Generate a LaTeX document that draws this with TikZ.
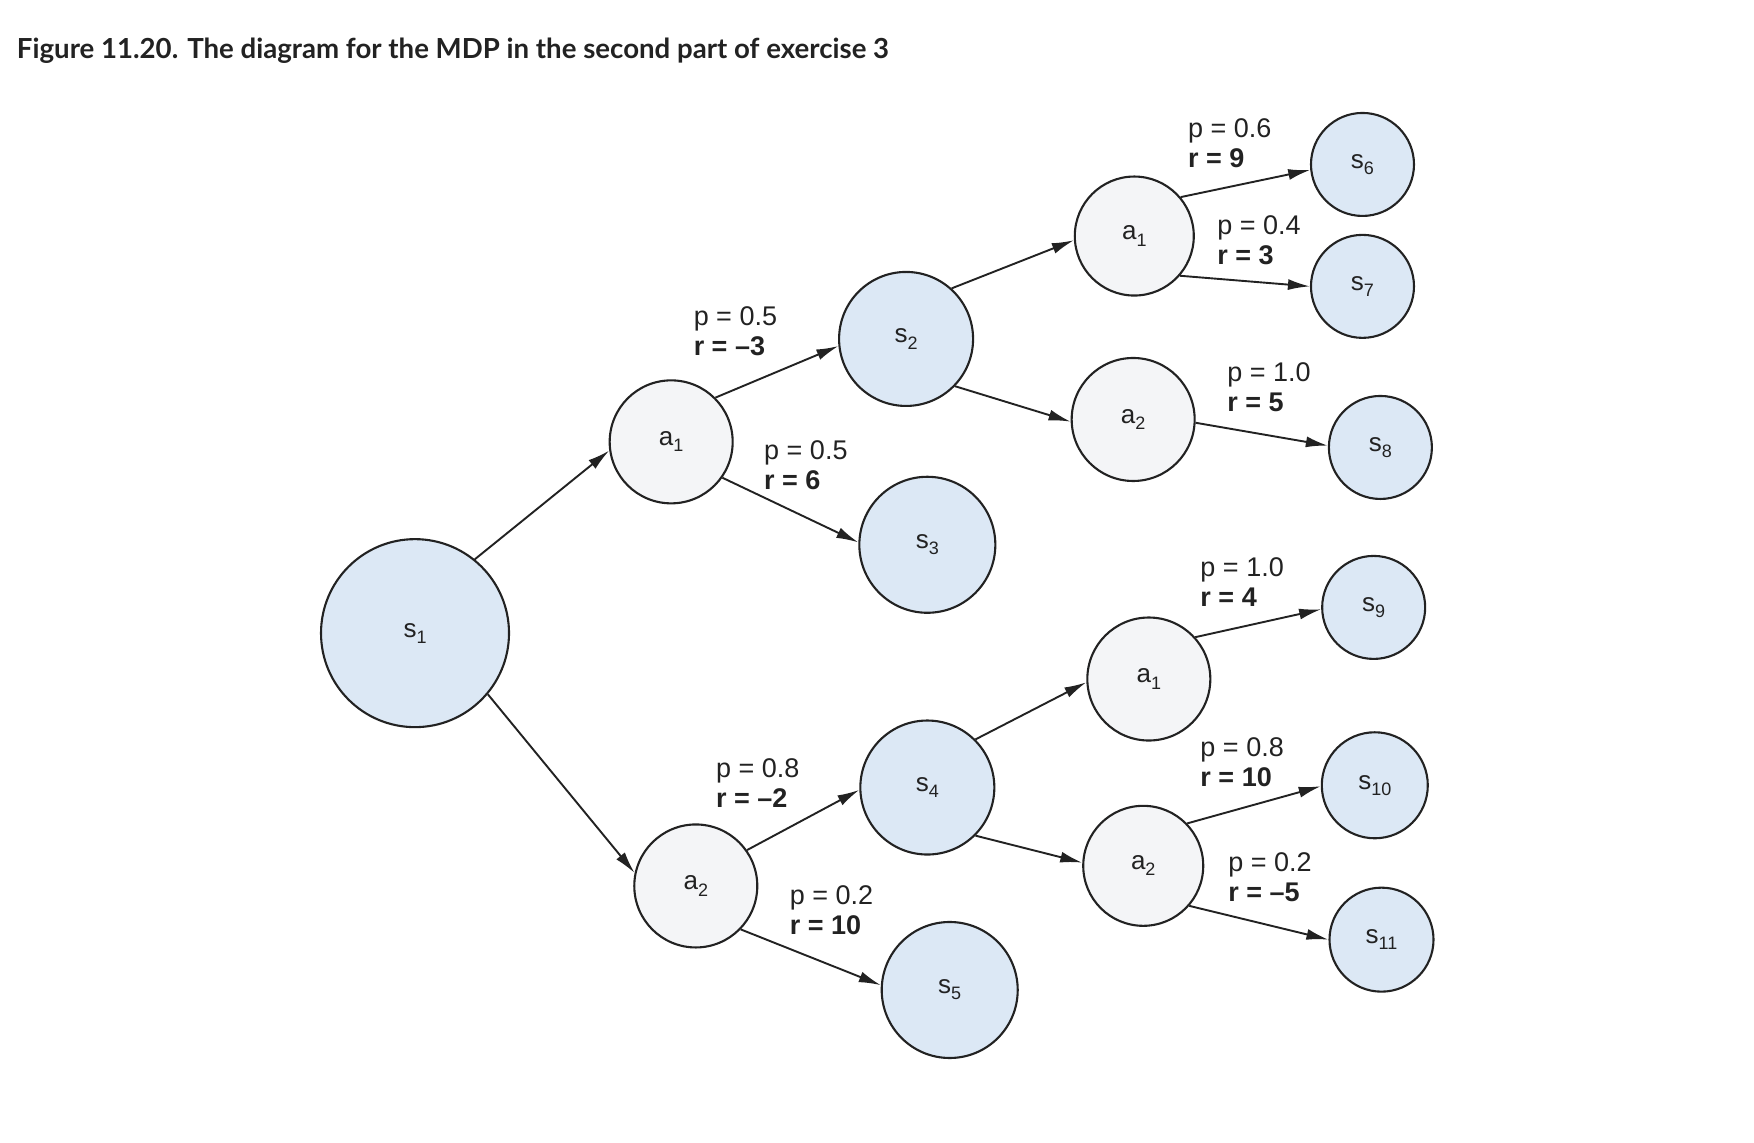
\documentclass[tikz,border=0pt]{standalone}
\usepackage{fontspec}
\setmainfont{Liberation Sans}
\newfontfamily\titlefont{Lato}
\usetikzlibrary{arrows.meta}
\definecolor{stfill}{HTML}{DCE8F5}
\definecolor{acfill}{HTML}{F4F5F7}
\definecolor{ink}{HTML}{222222}
\newcommand{\lowidx}[1]{\raisebox{-0.45ex}{\fontsize{18}{18}\selectfont #1}}
\newcommand{\nlab}[2]{#1\lowidx{#2}}
\begin{document}
\begin{tikzpicture}[x=1.1186pt,y=-1.1186pt,
  state/.style={circle,draw=ink,line width=2.1pt,fill=stfill,inner sep=0pt,text=ink,font=\fontsize{26}{30}\selectfont},
  act/.style={circle,draw=ink,line width=2.1pt,fill=acfill,inner sep=0pt,text=ink,font=\fontsize{26}{30}\selectfont},
  lbl/.style={anchor=west,align=left,inner sep=0pt,font=\fontsize{27}{30}\selectfont,text=ink},
  arr/.style={-{Latex[length=22pt,width=11pt]},line width=1.9pt,draw=ink}]
\fill[white] (0,0) rectangle (1568,1021);
\useasboundingbox (0,0) rectangle (1568,1021);

\node[anchor=base west,inner sep=0pt,text=ink] (title) at (15,52)
  {\resizebox{872pt}{!}{\titlefont\bfseries\fontsize{28}{30}\selectfont Figure 11.20. The diagram for the MDP in the second part of exercise 3}};

% states and actions
\node[state,minimum size=188pt] (s1) at (371,566) {\nlab{s}{1}};
\node[act,minimum size=123pt] (a1) at (600,395) {\nlab{a}{1}};
\node[act,minimum size=123pt] (a2) at (622,792) {\nlab{a}{2}};
\node[state,minimum size=134pt] (s2) at (810,303) {\nlab{s}{2}};
\node[state,minimum size=136pt] (s3) at (829,487) {\nlab{s}{3}};
\node[state,minimum size=134pt] (s4) at (829,704) {\nlab{s}{4}};
\node[state,minimum size=136pt] (s5) at (849,885) {\nlab{s}{5}};
\node[act,minimum size=119pt] (a1t) at (1014,211) {\nlab{a}{1}};
\node[act,minimum size=123pt] (a2t) at (1013,375) {\nlab{a}{2}};
\node[act,minimum size=123pt] (a1b) at (1027,607) {\nlab{a}{1}};
\node[act,minimum size=120pt] (a2b) at (1022,774) {\nlab{a}{2}};
\node[state,minimum size=103pt] (s6) at (1218,147) {\nlab{s}{6}};
\node[state,minimum size=103pt] (s7) at (1218,256) {\nlab{s}{7}};
\node[state,minimum size=103pt] (s8) at (1234,400) {\nlab{s}{8}};
\node[state,minimum size=103pt] (s9) at (1228,543) {\nlab{s}{9}};
\node[state,minimum size=106pt] (s10) at (1229,702) {\nlab{s}{10}};
\node[state,minimum size=104pt] (s11) at (1235,840) {\nlab{s}{11}};

% connectors
\draw[arr] (s1.51) -- (a1.188);
\draw[arr] (s1.-40) -- (a2.168);
\draw[arr] (a1.45) -- (s2.186);
\draw[arr] (a1.-35) -- (s3.178);
\draw[arr] (a2.35) -- (s4.182);
\draw[arr] (a2.-44) -- (s5.176);
\draw[arr] (s2.48) -- (a1t.184);
\draw[arr] (s2.-44) -- (a2t.182);
\draw[arr] (s4.45) -- (a1b.183);
\draw[arr] (s4.-45) -- (a2b.177);
\draw[arr] (a1t.40) -- (s6.186);
\draw[arr] (a1t.-41) -- (s7.180);
\draw[arr] (a2t.-3) -- (s8.178);
\draw[arr] (a1b.42) -- (s9.182);
\draw[arr] (a2b.44) -- (s10.181);
\draw[arr] (a2b.-41) -- (s11.180);

% labels
\node[lbl] (l1) at (620,296) {p = 0.5\\\textbf{r = –3}};
\node[lbl] (l2) at (683,416) {p = 0.5\\\textbf{r = 6}};
\node[lbl] (l3) at (640,700) {p = 0.8\\\textbf{r = –2}};
\node[lbl] (l4) at (706,814) {p = 0.2\\\textbf{r = 10}};
\node[lbl] (l5) at (1062,128) {p = 0.6\\\textbf{r = 9}};
\node[lbl] (l6) at (1088,215) {p = 0.4\\\textbf{r = 3}};
\node[lbl] (l7) at (1097,346) {p = 1.0\\\textbf{r = 5}};
\node[lbl] (l8) at (1073,520) {p = 1.0\\\textbf{r = 4}};
\node[lbl] (l9) at (1073,681) {p = 0.8\\\textbf{r = 10}};
\node[lbl] (l10) at (1098,784) {p = 0.2\\\textbf{r = –5}};
\end{tikzpicture}
\end{document}
